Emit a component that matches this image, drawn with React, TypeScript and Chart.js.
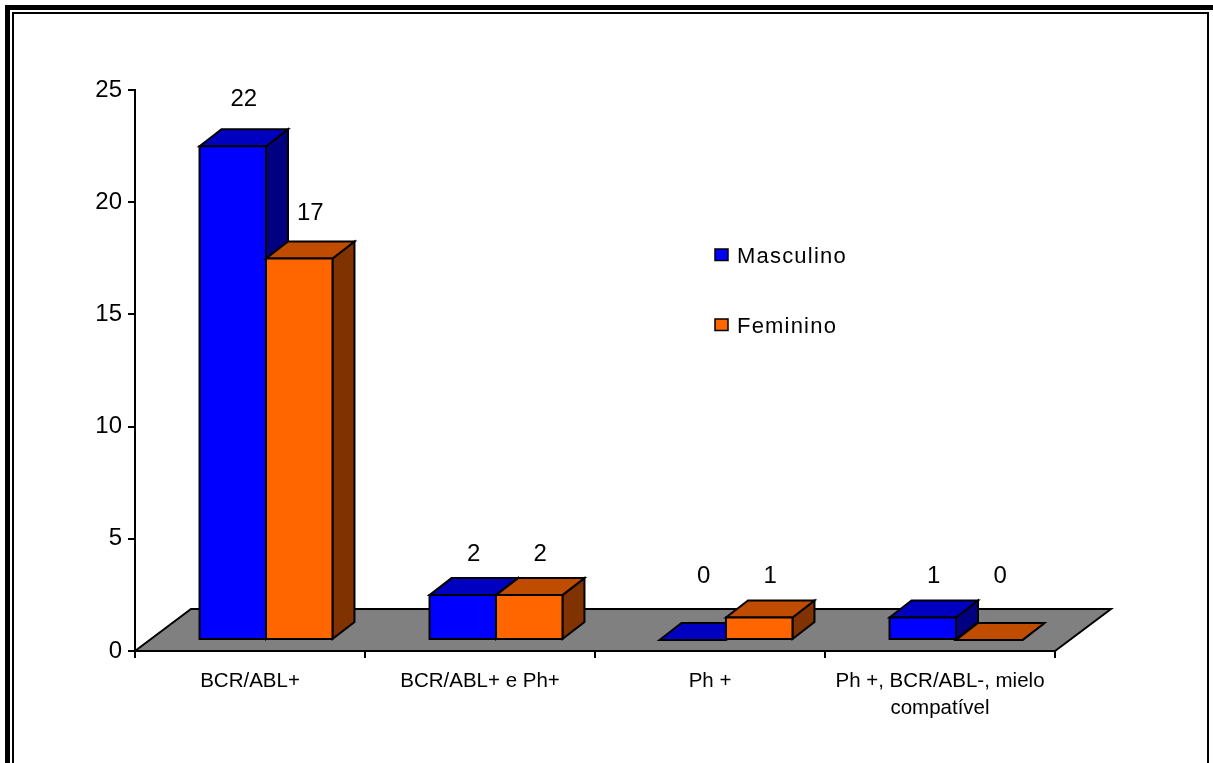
import React, { useEffect, useRef } from "react";
import { Chart, registerables } from "chart.js";

Chart.register(...registerables);

// ---- data ----
const categories: (string | string[])[] = [
  "BCR/ABL+",
  "BCR/ABL+ e Ph+",
  "Ph +",
  ["Ph +, BCR/ABL-, mielo", "compatível"],
];
const seriesNames = ["Masculino", "Feminino"];
const masculino = [22, 2, 0, 1];
const feminino = [17, 2, 1, 0];
const yMin = 0;
const yMax = 25;
const yStep = 5;

// ---- styling ----
const FONT = "'Liberation Sans', Arial, Helvetica, sans-serif";
const FACES = [
  { front: "#0000FF", top: "#0000C0", side: "#000080" },
  { front: "#FF6600", top: "#C04C00", side: "#803300" },
];
// 3D projection of the floor and of each box
const FLOOR_DX = 56;
const FLOOR_DY = 42;
const BAR_SHIFT_X = 16;
const BAR_SHIFT_Y = 11;
const BAR_DX = 22;
const BAR_DY = 17;

const W = 1213;
const H = 763;

function poly(ctx: CanvasRenderingContext2D, pts: number[][], fill: string) {
  ctx.beginPath();
  ctx.moveTo(pts[0][0], pts[0][1]);
  for (let i = 1; i < pts.length; i++) ctx.lineTo(pts[i][0], pts[i][1]);
  ctx.closePath();
  ctx.fillStyle = fill;
  ctx.fill();
  ctx.stroke();
}

const framePlugin = {
  id: "frame",
  beforeDraw(chart: any) {
    const ctx = chart.ctx as CanvasRenderingContext2D;
    ctx.save();
    ctx.fillStyle = "#fff";
    ctx.fillRect(0, 0, chart.width, chart.height);
    ctx.strokeStyle = "#000";
    ctx.lineWidth = 5;
    ctx.strokeRect(7.5, 7.5, chart.width - 1.5, chart.height + 10);
    ctx.lineWidth = 2;
    ctx.strokeRect(13, 13, chart.width - 18, chart.height + 10);
    ctx.restore();
  },
};

const box3dPlugin = {
  id: "box3d",
  beforeDatasetsDraw(chart: any) {
    // grey floor under the boxes
    const ctx = chart.ctx as CanvasRenderingContext2D;
    const xs = chart.scales.x;
    const y0 = chart.scales.y.getPixelForValue(0);
    ctx.save();
    ctx.strokeStyle = "#000";
    ctx.lineWidth = 2;
    ctx.lineJoin = "miter";
    poly(
      ctx,
      [
        [xs.left, y0],
        [xs.left + FLOOR_DX, y0 - FLOOR_DY],
        [xs.right + FLOOR_DX, y0 - FLOOR_DY],
        [xs.right, y0],
      ],
      "#808080"
    );
    ctx.restore();
  },
  beforeDatasetDraw() {
    // boxes are painted together afterwards
    return false;
  },
  afterDatasetsDraw(chart: any) {
    const ctx = chart.ctx as CanvasRenderingContext2D;
    const ys = chart.scales.y;
    const n = chart.data.labels.length;
    ctx.save();
    ctx.strokeStyle = "#000";
    ctx.lineWidth = 2;
    ctx.lineJoin = "miter";
    for (let i = 0; i < n; i++) {
      chart.data.datasets.forEach((ds: any, d: number) => {
        const el = chart.getDatasetMeta(d).data[i];
        const c = FACES[d];
        const x0 = el.x - el.width / 2 + BAR_SHIFT_X;
        const x1 = x0 + el.width;
        const yb = el.base - BAR_SHIFT_Y;
        const yt = el.y - BAR_SHIFT_Y;
        // side
        poly(ctx, [[x1, yt], [x1 + BAR_DX, yt - BAR_DY], [x1 + BAR_DX, yb - BAR_DY], [x1, yb]], c.side);
        // top
        poly(ctx, [[x0, yt], [x0 + BAR_DX, yt - BAR_DY], [x1 + BAR_DX, yt - BAR_DY], [x1, yt]], c.top);
        // front
        if (yb - yt > 0.5) {
          poly(ctx, [[x0, yt], [x1, yt], [x1, yb], [x0, yb]], c.front);
        } else {
          ctx.beginPath();
          ctx.moveTo(x0, yb);
          ctx.lineTo(x1, yb);
          ctx.stroke();
        }
      });
    }
    // value labels
    ctx.fillStyle = "#000";
    ctx.font = `24px ${FONT}`;
    ctx.textAlign = "center";
    ctx.textBaseline = "middle";
    chart.data.datasets.forEach((ds: any, d: number) => {
      chart.getDatasetMeta(d).data.forEach((el: any, i: number) => {
        const v = ds.data[i];
        const cx = el.x + BAR_SHIFT_X + 11;
        const lift = 52 + 0.28 * Math.max(v - 2, 0);
        const cy = ys.getPixelForValue(Math.max(v, 1)) - lift;
        ctx.fillText(String(v), cx, cy);
      });
    });
    ctx.restore();
  },
};

const legendPlugin = {
  id: "sideLegend",
  afterDraw(chart: any) {
    const ctx = chart.ctx as CanvasRenderingContext2D;
    ctx.save();
    ctx.font = `22px ${FONT}`;
    (ctx as any).letterSpacing = "1.2px";
    ctx.textAlign = "left";
    ctx.textBaseline = "alphabetic";
    chart.data.datasets.forEach((ds: any, d: number) => {
      const base = 263 + d * 70;
      ctx.fillStyle = FACES[d].front;
      ctx.fillRect(715, base - 14, 13, 11.5);
      ctx.strokeStyle = "#000";
      ctx.lineWidth = 1.5;
      ctx.strokeRect(715, base - 14, 13, 11.5);
      ctx.fillStyle = "#000";
      ctx.fillText(ds.label, 737, base);
    });
    ctx.restore();
  },
};

export default function App() {
  const ref = useRef<HTMLCanvasElement | null>(null);

  useEffect(() => {
    if (!ref.current) return;
    Chart.defaults.font.family = FONT;
    const chart = new Chart(ref.current, {
      type: "bar",
      data: {
        labels: categories,
        datasets: [
          { label: seriesNames[0], data: masculino, backgroundColor: FACES[0].front },
          { label: seriesNames[1], data: feminino, backgroundColor: FACES[1].front },
        ],
      },
      options: {
        responsive: false,
        animation: false,
        devicePixelRatio: 1,
        layout: { padding: { top: 90, right: 158, bottom: 0, left: 0 } },
        datasets: { bar: { categoryPercentage: 0.578, barPercentage: 1 } },
        plugins: { legend: { display: false }, tooltip: { enabled: false } },
        scales: {
          x: {
            offset: true,
            grid: {
              offset: true,
              drawOnChartArea: false,
              drawTicks: true,
              tickLength: 7,
              color: "#000",
              lineWidth: 2,
            },
            border: { display: true, color: "#000", width: 2 },
            ticks: {
              color: "#000",
              font: { family: FONT, size: 20.5, lineHeight: 1.3 },
              padding: 10,
              maxRotation: 0,
              autoSkip: false,
            },
            afterFit: (s: any) => {
              s.height = 112;
            },
          },
          y: {
            min: yMin,
            max: yMax,
            grid: { drawOnChartArea: false, tickLength: 7, color: "#000", lineWidth: 2 },
            border: { display: true, color: "#000", width: 2 },
            ticks: { stepSize: yStep, color: "#000", font: { family: FONT, size: 24 }, padding: 6 },
            afterFit: (s: any) => {
              s.width = 135;
            },
          },
        },
      },
      plugins: [framePlugin, box3dPlugin, legendPlugin],
    } as any);
    return () => chart.destroy();
  }, []);

  return (
    <div style={{ position: "fixed", left: 0, top: 0, width: W, height: H, background: "#fff" }}>
      <canvas ref={ref} width={W} height={H} style={{ width: W, height: H, display: "block" }} />
    </div>
  );
}
